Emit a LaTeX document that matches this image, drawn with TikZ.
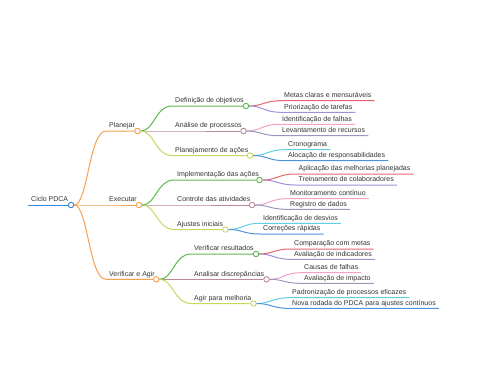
\documentclass[tikz,border=0pt]{standalone}
\usepackage{fontspec}
\setmainfont{Liberation Sans}
\definecolor{rootblue}{HTML}{3A86D8}
\definecolor{brorange}{HTML}{F5A050}
\definecolor{brgreen}{HTML}{5CB84C}
\definecolor{brmauve}{HTML}{BC8A92}
\definecolor{brlime}{HTML}{C6D860}
\definecolor{lfred}{HTML}{E8646E}
\definecolor{lfpurple}{HTML}{A48ED8}
\definecolor{lfpink}{HTML}{F2A2C6}
\definecolor{lfgray}{HTML}{9898BC}
\definecolor{lfcyan}{HTML}{62CEE0}
\definecolor{lfblue}{HTML}{4E94DA}
\definecolor{txtgray}{HTML}{333333}

\begin{document}
\begin{tikzpicture}[x=1pt,y=-1pt,
  lbl/.style={anchor=south west,inner xsep=3pt,inner ysep=1.5pt,text height=5.5pt,text depth=1.5pt,
    text=txtgray,font=\fontsize{7}{8}\selectfont},
  dot/.style={circle,draw=#1,fill=white,line width=0.9pt,minimum size=5.5pt,inner sep=0pt},
  br/.style={draw=#1,line width=1pt}]
\path[use as bounding box] (0,0) rectangle (480,384);
% root
\node[lbl] (roott) at (28,205) {Ciclo PDCA};
\node[dot=rootblue] (root) at (71,205) {};
\draw[br=rootblue] (roott.south west) -- (root);
% level 1
\node[lbl] (plant) at (106,131) {Planejar};
\node[dot=brorange] (plan) at (137.5,131) {};
\node[lbl] (exect) at (106,205) {Executar};
\node[dot=brorange] (exec) at (139,205) {};
\node[lbl] (verit) at (106,279.3) {Verificar e Agir};
\node[dot=brorange] (veri) at (156.3,279.3) {};
\draw[br=brorange] (root) .. controls +(17,0) and +(-17,0) .. (plant.south west) -- (plan);
\draw[br=brorange] (root) -- (exect.south west) -- (exec);
\draw[br=brorange] (root) .. controls +(17,0) and +(-17,0) .. (verit.south west) -- (veri);
% level 2, Planejar
\node[lbl] (defobjt) at (172,106) {Definição de objetivos};
\node[dot=brgreen] (defobj) at (246,106) {};
\node[lbl] (anaproct) at (172,131) {Análise de processos};
\node[dot=brmauve] (anaproc) at (243.5,131) {};
\node[lbl] (planact) at (172,155.5) {Planejamento de ações};
\node[dot=brlime] (planac) at (250,155.5) {};
\draw[br=brgreen] (plan) .. controls +(17,0) and +(-17,0) .. (defobjt.south west) -- (defobj);
\draw[br=brmauve] (plan) -- (anaproct.south west) -- (anaproc);
\draw[br=brlime] (plan) .. controls +(17,0) and +(-17,0) .. (planact.south west) -- (planac);
% level 2, Executar
\node[lbl] (implt) at (174,180) {Implementação das ações};
\node[dot=brgreen] (impl) at (259.5,180) {};
\node[lbl] (ctrlt) at (174,205) {Controle das atividades};
\node[dot=brmauve] (ctrl) at (252,205) {};
\node[lbl] (ajustt) at (174,229.5) {Ajustes iniciais};
\node[dot=brlime] (ajust) at (225.5,229.5) {};
\draw[br=brgreen] (exec) .. controls +(17,0) and +(-17,0) .. (implt.south west) -- (impl);
\draw[br=brmauve] (exec) -- (ctrlt.south west) -- (ctrl);
\draw[br=brlime] (exec) .. controls +(17,0) and +(-17,0) .. (ajustt.south west) -- (ajust);
% level 2, Verificar e Agir
\node[lbl] (verrest) at (191,254) {Verificar resultados};
\node[dot=brgreen] (verres) at (256,254) {};
\node[lbl] (anadisct) at (191,279.3) {Analisar discrepâncias};
\node[dot=brmauve] (anadisc) at (266.5,279.3) {};
\node[lbl] (agirt) at (191,303.5) {Agir para melhoria};
\node[dot=brlime] (agir) at (253.5,303.5) {};
\draw[br=brgreen] (veri) .. controls +(17,0) and +(-17,0) .. (verrest.south west) -- (verres);
\draw[br=brmauve] (veri) -- (anadisct.south west) -- (anadisc);
\draw[br=brlime] (veri) .. controls +(17,0) and +(-17,0) .. (agirt.south west) -- (agir);
% leaves, Planejar
\node[lbl] (m1) at (281,100.7) {Metas claras e mensuráveis};
\node[lbl] (m2) at (281,112.3) {Priorização de tarefas};
\node[lbl] (m3) at (279,124.3) {Identificação de falhas};
\node[lbl] (m4) at (279,135.7) {Levantamento de recursos};
\node[lbl] (m5) at (285,149.7) {Cronograma};
\node[lbl] (m6) at (285,160.7) {Alocação de responsabilidades};
\draw[br=lfred] (defobj) .. controls +(17,0) and +(-17,0) .. (m1.south west) -- (m1.south east);
\draw[br=lfpurple] (defobj) .. controls +(17,0) and +(-17,0) .. (m2.south west) -- (m2.south east);
\draw[br=lfpink] (anaproc) .. controls +(17,0) and +(-17,0) .. (m3.south west) -- (m3.south east);
\draw[br=lfgray] (anaproc) .. controls +(17,0) and +(-17,0) .. (m4.south west) -- (m4.south east);
\draw[br=lfcyan] (planac) .. controls +(17,0) and +(-17,0) .. (m5.south west) -- (m5.south east);
\draw[br=lfblue] (planac) .. controls +(17,0) and +(-17,0) .. (m6.south west) -- (m6.south east);
% leaves, Executar
\node[lbl] (e1) at (295.5,174) {Aplicação das melhorias planejadas};
\node[lbl] (e2) at (295.5,185) {Treinamento de colaboradores};
\node[lbl] (e3) at (287,198.7) {Monitoramento contínuo};
\node[lbl] (e4) at (287,209.3) {Registro de dados};
\node[lbl] (e5) at (260,223.3) {Identificação de desvios};
\node[lbl] (e6) at (260,234) {Correções rápidas};
\draw[br=lfred] (impl) .. controls +(17,0) and +(-17,0) .. (e1.south west) -- (e1.south east);
\draw[br=lfpurple] (impl) .. controls +(17,0) and +(-17,0) .. (e2.south west) -- (e2.south east);
\draw[br=lfpink] (ctrl) .. controls +(17,0) and +(-17,0) .. (e3.south west) -- (e3.south east);
\draw[br=lfgray] (ctrl) .. controls +(17,0) and +(-17,0) .. (e4.south west) -- (e4.south east);
\draw[br=lfcyan] (ajust) .. controls +(17,0) and +(-17,0) .. (e5.south west) -- (e5.south east);
\draw[br=lfblue] (ajust) .. controls +(17,0) and +(-17,0) .. (e6.south west) -- (e6.south east);
% leaves, Verificar e Agir
\node[lbl] (v1) at (291,249) {Comparação com metas};
\node[lbl] (v2) at (291,259.3) {Avaliação de indicadores};
\node[lbl] (v3) at (301,272.7) {Causas de falhas};
\node[lbl] (v4) at (301,283.3) {Avaliação de impacto};
\node[lbl] (v5) at (289,297.7) {Padronização de processos eficazes};
\node[lbl] (v6) at (289,308.3) {Nova rodada do PDCA para ajustes contínuos};
\draw[br=lfred] (verres) .. controls +(17,0) and +(-17,0) .. (v1.south west) -- (v1.south east);
\draw[br=lfpurple] (verres) .. controls +(17,0) and +(-17,0) .. (v2.south west) -- (v2.south east);
\draw[br=lfpink] (anadisc) .. controls +(17,0) and +(-17,0) .. (v3.south west) -- (v3.south east);
\draw[br=lfgray] (anadisc) .. controls +(17,0) and +(-17,0) .. (v4.south west) -- (v4.south east);
\draw[br=lfcyan] (agir) .. controls +(17,0) and +(-17,0) .. (v5.south west) -- (v5.south east);
\draw[br=lfblue] (agir) .. controls +(17,0) and +(-17,0) .. (v6.south west) -- (v6.south east);
\end{tikzpicture}
\end{document}
